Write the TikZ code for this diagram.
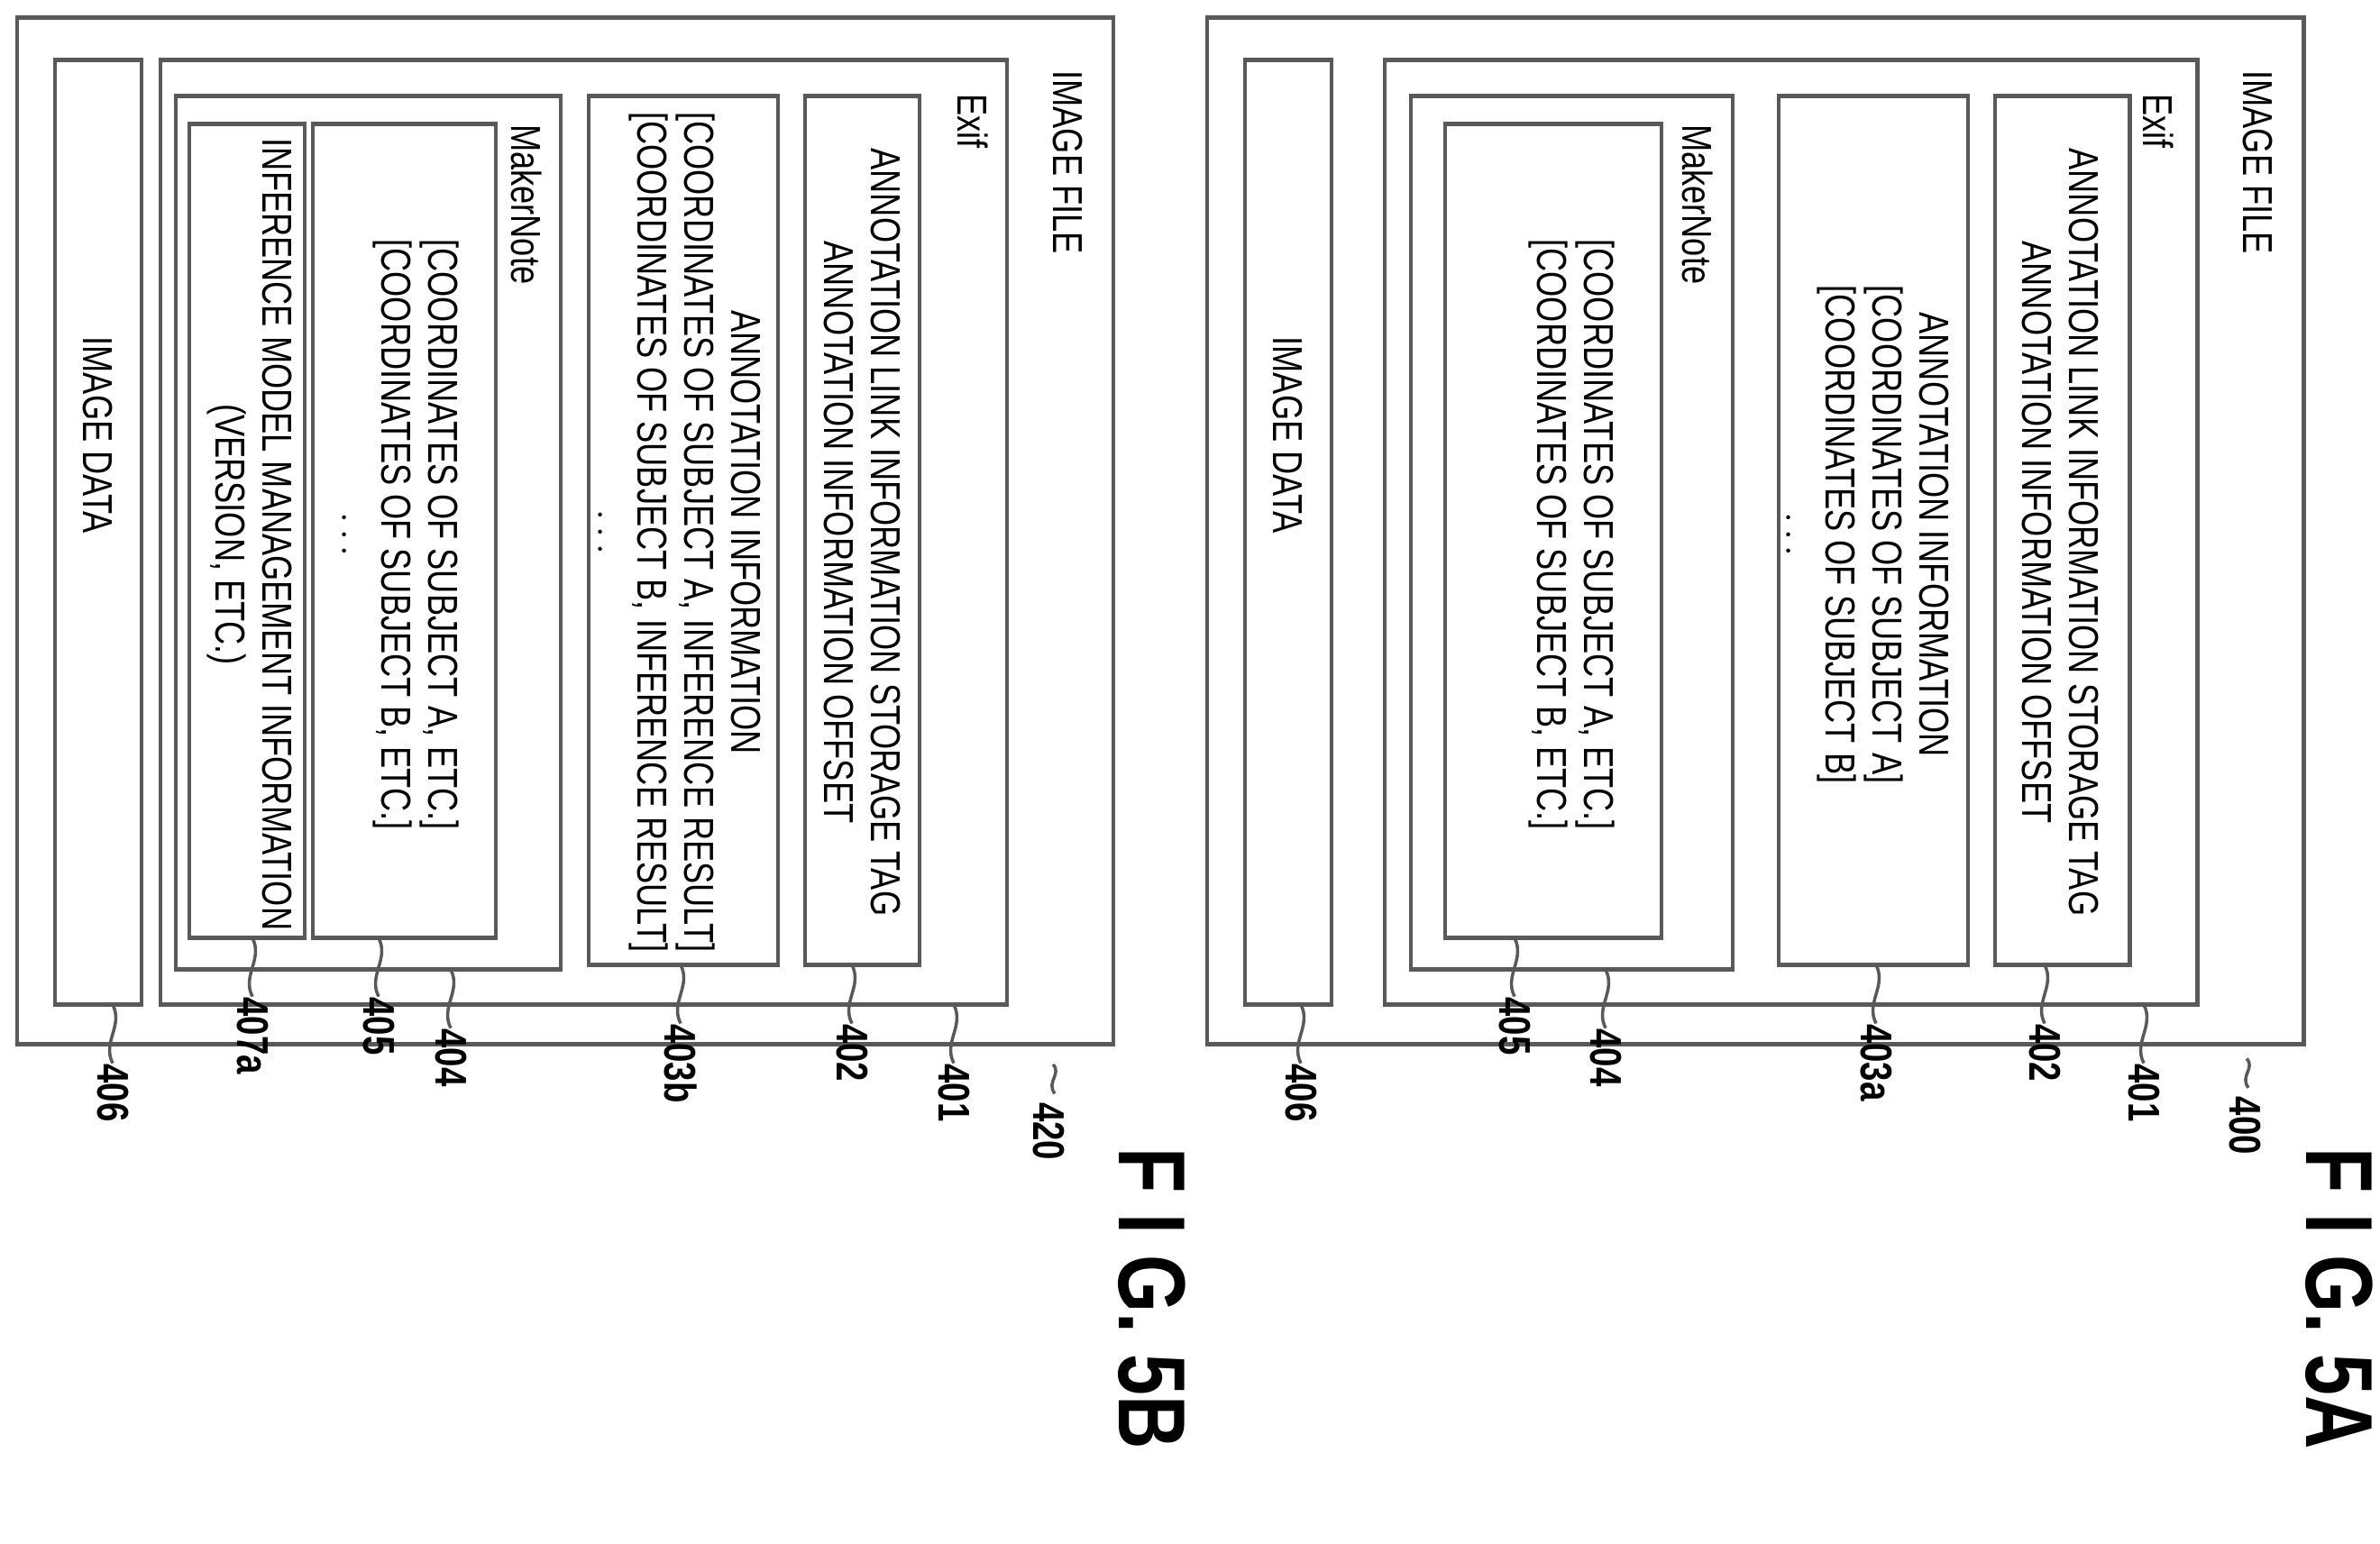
\documentclass[tikz,border=0pt]{standalone}
\usepackage{fontspec}
\setmainfont{Liberation Sans}[FakeStretch=0.78]
\usetikzlibrary{fit}
\tikzset{
  box/.style={draw=black!65, line width=1.4pt, inner sep=0pt},
  txt/.style={rotate=-90, align=center, inner sep=0pt, font=\fontsize{13.2}{14.8}\selectfont},
  ref/.style={rotate=-90, anchor=west, inner sep=0pt, font=\fontsize{14}{14}\selectfont\bfseries},
  lead/.style={draw=black!65, line width=1pt},
  fig/.style={rotate=-90, anchor=west, inner sep=0pt, font=\fontsize{30}{30}\selectfont\bfseries}
}
\newcommand{\leader}[2]{\draw[lead] (#1) .. controls ++(12,18) and ++(-12,-18) .. ++(0,50) coordinate (#2);}
\begin{document}
\begin{tikzpicture}[x=0.01cm, y=-0.012965cm]
    \useasboundingbox (0,0) rectangle (2640,1319.7);
    % FIG. 5B
    \node[box, fit={(19,15) (1235,893)}] (b420) {};
    \node[box, fit={(178,51) (1117,859)}] (b401) {};
    \node[box, fit={(893,82) (1020,825)}] (b402) {};
    \node[box, fit={(653,82) (863,825)}] (b403b) {};
    \node[box, fit={(195,82) (622,829)}] (b404) {};
    \node[box, fit={(347,106) (550,802)}] (b405) {};
    \node[box, fit={(210,106) (338,802)}] (b407a) {};
    \node[box, fit={(61,51) (157,859)}] (b406) {};
    \node[txt, anchor=west] (t420) at (1184,60) {IMAGE FILE};
    \node[txt, anchor=west] (t401) at (1079,80) {Exif};
    \node[txt] (t402) at (956,455) {ANNOTATION LINK INFORMATION STORAGE TAG\\ANNOTATION INFORMATION OFFSET};
    \node[txt] (t403b) at (750,455) {ANNOTATION INFORMATION\\{}[COORDINATES OF SUBJECT A, INFERENCE RESULT]\\{}[COORDINATES OF SUBJECT B, INFERENCE RESULT]\\$\cdots$};
    \node[txt, anchor=west] (t404) at (584,106) {MakerNote};
    \node[txt] (t405) at (440,457) {[COORDINATES OF SUBJECT A, ETC.]\\{}[COORDINATES OF SUBJECT B, ETC.]\\$\cdots$};
    \node[txt] (t407a) at (277,457) {INFERENCE MODEL MANAGEMENT INFORMATION\\(VERSION, ETC.)};
    \node[txt] (t406) at (108,372) {IMAGE DATA};
    \draw[lead] (1168,910) .. controls (1178,918) and (1160,925) .. (1170,935) coordinate (c420);
    \leader{1058,859}{c401}
    \leader{945,825}{c402}
    \leader{755,825}{c403b}
    \leader{500,829}{c404}
    \leader{420,802}{c405}
    \leader{280,802}{c407a}
    \leader{125,859}{c406}
    \node[ref] (l420) at (1163,942) {420};
    \node[ref] at (c401) {401};
    \node[ref] at (c402) {402};
    \node[ref] at (c403b) {403b};
    \node[ref] at (c404) {404};
    \node[ref] at (c405) {405};
    \node[ref] at (c407a) {407a};
    \node[ref] at (c406) {406};
    \node[fig] (f5b) at (1278,981) {F I G. 5B};
    % FIG. 5A
    \node[box, fit={(1339,15) (2555,893)}] (b400) {};
    \node[box, fit={(1536,51) (2437,859)}] (a401) {};
    \node[box, fit={(2213,82) (2362,825)}] (a402) {};
    \node[box, fit={(1973,82) (2183,825)}] (b403a) {};
    \node[box, fit={(1565,82) (1922,829)}] (a404) {};
    \node[box, fit={(1603,106) (1843,802)}] (a405) {};
    \node[box, fit={(1381,51) (1477,859)}] (a406) {};
    \node[txt, anchor=west] (t400) at (2504,60) {IMAGE FILE};
    \node[txt, anchor=west] (u401) at (2394,80) {Exif};
    \node[txt] (u402) at (2285,455) {ANNOTATION LINK INFORMATION STORAGE TAG\\ANNOTATION INFORMATION OFFSET};
    \node[txt] (t403a) at (2068,457) {ANNOTATION INFORMATION\\{}[COORDINATES OF SUBJECT A]\\{}[COORDINATES OF SUBJECT B]\\$\cdots$};
    \node[txt, anchor=west] (u404) at (1883,106) {MakerNote};
    \node[txt] (u405) at (1743,457) {[COORDINATES OF SUBJECT A, ETC.]\\{}[COORDINATES OF SUBJECT B, ETC.]};
    \node[txt] (u406) at (1428,372) {IMAGE DATA};
    \draw[lead] (2492,905) .. controls (2502,913) and (2484,920) .. (2494,930) coordinate (c400);
    \leader{2378,859}{d401}
    \leader{2268,825}{d402}
    \leader{2081,825}{c403a}
    \leader{1781,829}{d404}
    \leader{1680,802}{d405}
    \leader{1443,859}{d406}
    \node[ref] (l400) at (2490,937) {400};
    \node[ref] at (d401) {401};
    \node[ref] at (d402) {402};
    \node[ref] at (c403a) {403a};
    \node[ref] at (d404) {404};
    \node[ref] at (d405) {405};
    \node[ref] at (d406) {406};
    \node[fig] (f5a) at (2595,981) {F I G. 5A};
\end{tikzpicture}
\end{document}
